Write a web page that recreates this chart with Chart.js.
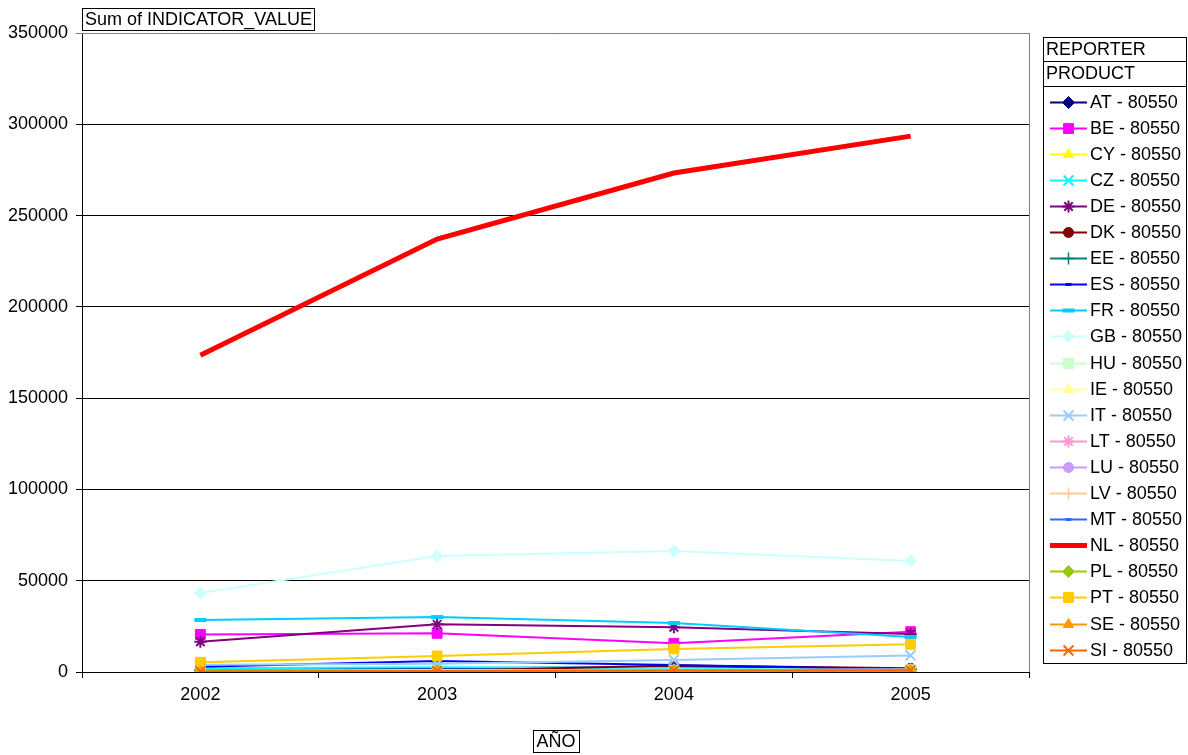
<!DOCTYPE html>
<html>
<head>
<meta charset="utf-8">
<style>
  html, body { margin: 0; padding: 0; background: #fff; }
  canvas { display: block; }
</style>
<script src="https://cdn.jsdelivr.net/npm/chart.js@4/dist/chart.umd.min.js"></script>
</head>
<body>
<canvas id="chart" width="1188" height="755"></canvas>
<script>
// Years on the category axis
const years = ['2002', '2003', '2004', '2005'];

// Y axis range and tick step
const yMin = 0;
const yMax = 350000;
const yStep = 50000;

// Series values per reporter, product 80550
const AT = [1000, 2000, 2800, 1600];
const BE = [20600, 21200, 15700, 22100];
const CY = [100, 100, 200, 200];
const CZ = [2000, 2600, 2200, 1000];
const DE = [16600, 26100, 24500, 20800];
const DK = [300, 500, 3500, 2000];
const EE = [100, 200, 300, 300];
const ES = [2900, 6000, 3800, 1500];
const FR = [28500, 30100, 26800, 19200];
const GB = [43300, 63500, 66300, 60800];
const HU = [500, 800, 1000, 1200];
const IE = [800, 1000, 1200, 1400];
const IT = [4000, 4500, 6600, 9100];
const LT = [100, 200, 200, 300];
const LU = [300, 300, 400, 500];
const LV = [100, 100, 200, 200];
const MT = [200, 300, 400, 300];
const NL = [173500, 237100, 273300, 293500];
const PL = [500, 700, 900, 1000];
const PT = [5300, 8800, 12600, 15200];
const SE = [200, 500, 600, 700];
const SI = [300, 600, 800, 900];

const seriesLabels = ['AT - 80550','BE - 80550','CY - 80550','CZ - 80550','DE - 80550','DK - 80550',
  'EE - 80550','ES - 80550','FR - 80550','GB - 80550','HU - 80550','IE - 80550','IT - 80550',
  'LT - 80550','LU - 80550','LV - 80550','MT - 80550','NL - 80550','PL - 80550','PT - 80550',
  'SE - 80550','SI - 80550'];
const seriesValues = [AT, BE, CY, CZ, DE, DK, EE, ES, FR, GB, HU, IE, IT, LT, LU, LV, MT, NL, PL, PT, SE, SI];

// Line colour and marker for each series
const styles = [
  { c: '#000080', p: 'rectRot', r: 6 },
  { c: '#FF00FF', p: 'rect', r: 7 },
  { c: '#FFFF00', p: 'triangle', r: 6 },
  { c: '#00FFFF', p: 'crossRot', r: 7, pw: 2 },
  { c: '#800080', p: 'star', r: 6, pw: 2 },
  { c: '#800000', p: 'circle', r: 5 },
  { c: '#008080', p: 'cross', r: 6, pw: 1.5 },
  { c: '#0000FF', p: 'line', r: 3, pw: 3 },
  { c: '#00CCFF', p: 'line', r: 6, pw: 4 },
  { c: '#CCFFFF', p: 'rectRot', r: 6 },
  { c: '#CCFFCC', p: 'rect', r: 7 },
  { c: '#FFFF99', p: 'triangle', r: 6 },
  { c: '#99CCFF', p: 'crossRot', r: 7, pw: 2 },
  { c: '#FF99CC', p: 'star', r: 6, pw: 2 },
  { c: '#CC99FF', p: 'circle', r: 5 },
  { c: '#FFCC99', p: 'cross', r: 6, pw: 1.5 },
  { c: '#3366FF', p: 'line', r: 3, pw: 3 },
  { c: '#FF0000', p: 'circle', r: 0, w: 5 },
  { c: '#99CC00', p: 'rectRot', r: 6 },
  { c: '#FFCC00', p: 'rect', r: 7 },
  { c: '#FF9900', p: 'triangle', r: 6 },
  { c: '#FF6600', p: 'crossRot', r: 7, pw: 2 }
];

const FONT = 'Liberation Sans, Arial, sans-serif';
const FS = 18;

const datasets = seriesValues.map((vals, i) => {
  const s = styles[i];
  return {
    label: seriesLabels[i],
    data: vals,
    borderColor: s.c,
    backgroundColor: s.c,
    borderWidth: s.w || 2,
    pointStyle: s.p,
    pointRadius: s.r,
    pointHoverRadius: s.r,
    pointBorderWidth: s.pw || 1,
    pointBackgroundColor: s.c,
    pointBorderColor: s.c,
    tension: 0,
    fill: false,
    order: seriesValues.length - i
  };
});

function drawMarker(ctx, s, x, y) {
  if (!s.r) return;
  ctx.save();
  ctx.fillStyle = s.c;
  ctx.strokeStyle = s.c;
  ctx.lineWidth = s.pw || 1;
  Chart.helpers.drawPoint(ctx, { pointStyle: s.p, radius: s.r, borderWidth: s.pw || 1, rotation: 0 }, x, y);
  ctx.restore();
}

function boxedText(ctx, text, x, y, w, h, align) {
  ctx.save();
  ctx.fillStyle = '#fff';
  ctx.fillRect(x, y, w, h);
  ctx.strokeStyle = '#000';
  ctx.lineWidth = 1;
  ctx.strokeRect(x + 0.5, y + 0.5, w, h);
  ctx.fillStyle = '#000';
  ctx.font = FS + 'px ' + FONT;
  ctx.textBaseline = 'middle';
  if (align === 'center') {
    ctx.textAlign = 'center';
    ctx.fillText(text, x + w / 2, y + h / 2 + 1);
  } else {
    ctx.textAlign = 'left';
    ctx.fillText(text, x + 3, y + h / 2 + 1);
  }
  ctx.restore();
}

const decorations = {
  id: 'decorations',
  beforeDatasetsDraw(chart) {
    const a = chart.chartArea;
    const ctx = chart.ctx;
    ctx.save();
    ctx.strokeStyle = '#808080';
    ctx.lineWidth = 1;
    ctx.beginPath();
    ctx.moveTo(a.left - 6, Math.round(a.top) + 0.5);
    ctx.lineTo(Math.round(a.right) + 0.5, Math.round(a.top) + 0.5);
    ctx.lineTo(Math.round(a.right) + 0.5, a.bottom);
    ctx.stroke();
    ctx.restore();
  },
  afterDraw(chart) {
    const ctx = chart.ctx;
    const a = chart.chartArea;
    // field buttons
    boxedText(ctx, 'Sum of INDICATOR_VALUE', 82, 8, 232, 22, 'left');
    const cx = (a.left + a.right) / 2;
    boxedText(ctx, 'AÑO', Math.round(cx - 23), 730, 46, 22, 'center');

    // legend
    const lx = 1043, ly = 37, lw = 143, lh = 626;
    ctx.save();
    ctx.fillStyle = '#fff';
    ctx.fillRect(lx, ly, lw, lh);
    ctx.strokeStyle = '#000';
    ctx.lineWidth = 1;
    ctx.strokeRect(lx + 0.5, ly + 0.5, lw, lh);
    ctx.restore();
    boxedText(ctx, 'REPORTER', lx, ly, lw, 24, 'left');
    boxedText(ctx, 'PRODUCT', lx, ly + 24, lw, 25, 'left');

    const first = 101.5, gap = 26.1;
    chart.data.datasets.forEach((ds, i) => {
      const s = styles[i];
      const y = Math.round(first + i * gap);
      ctx.save();
      ctx.strokeStyle = s.c;
      ctx.lineWidth = s.w || 2;
      ctx.beginPath();
      ctx.moveTo(1050, y + 0.5);
      ctx.lineTo(1087, y + 0.5);
      ctx.stroke();
      ctx.restore();
      drawMarker(ctx, s, 1068.5, y + 0.5);
      ctx.save();
      ctx.fillStyle = '#000';
      ctx.font = FS + 'px ' + FONT;
      ctx.textBaseline = 'middle';
      ctx.textAlign = 'left';
      ctx.fillText(ds.label, 1090, y + 1);
      ctx.restore();
    });
  }
};

new Chart(document.getElementById('chart'), {
  type: 'line',
  data: { labels: years, datasets },
  options: {
    responsive: false,
    devicePixelRatio: 1,
    animation: false,
    events: [],
    layout: { padding: { left: 0, top: 33, right: 159, bottom: 0 } },
    plugins: { legend: { display: false }, tooltip: { enabled: false }, title: { display: false } },
    scales: {
      x: {
        type: 'category',
        offset: true,
        grid: { offset: true, drawOnChartArea: false, drawTicks: true, tickLength: 6, color: '#000', tickColor: '#000' },
        border: { color: '#000', width: 1 },
        ticks: { color: '#000', font: { family: FONT, size: FS }, padding: 6, maxRotation: 0 },
        afterFit(s) { s.height = 83; }
      },
      y: {
        min: yMin,
        max: yMax,
        grid: {
          color: ctx => (ctx.tick && ctx.tick.value === yMax) ? 'rgba(0,0,0,0)' : '#000',
          tickColor: '#000',
          tickLength: 6,
          lineWidth: 1
        },
        border: { color: '#000', width: 1 },
        ticks: {
          stepSize: yStep, color: '#000', font: { family: FONT, size: FS }, padding: 8,
          callback: v => String(v)
        },
        afterFit(s) { s.width = 82; }
      }
    }
  },
  plugins: [decorations]
});
</script>
</body>
</html>
